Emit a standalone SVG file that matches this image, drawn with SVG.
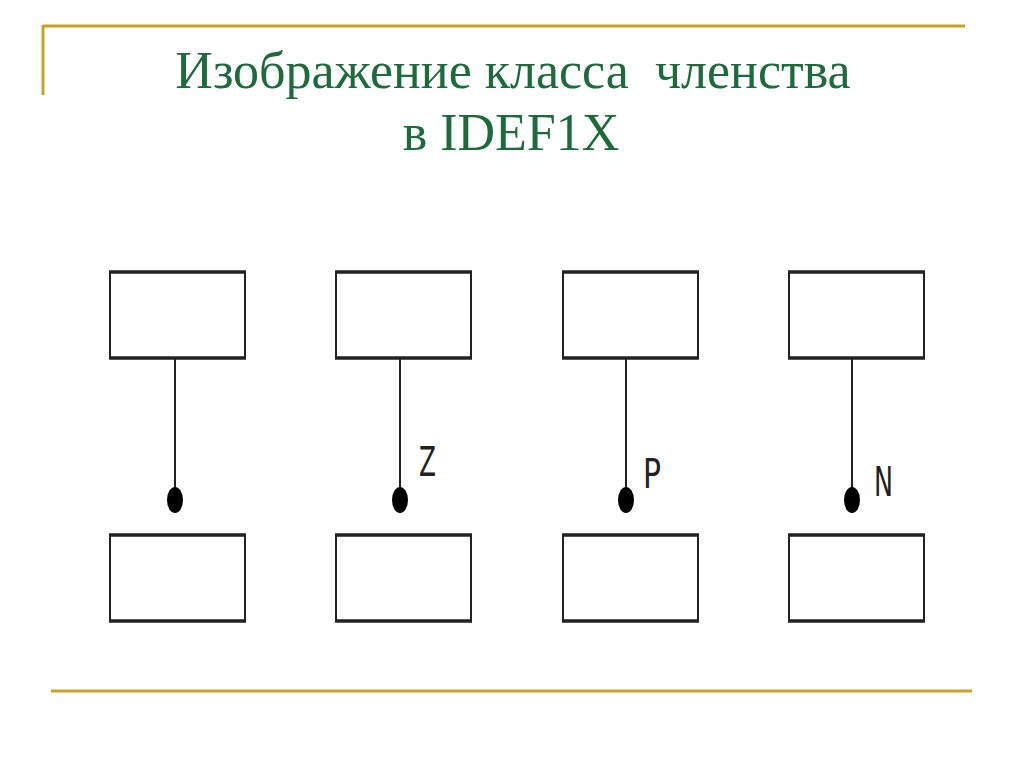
<svg xmlns="http://www.w3.org/2000/svg" width="1024" height="768" viewBox="0 0 1024 768">
<style>
.gold{stroke:#c9a227;stroke-width:3;fill:none}
.title{font-family:"Liberation Serif",serif;font-size:52px;fill:#1d6b3c;text-anchor:middle}
.box{fill:#fff;stroke:#222;stroke-width:2}
.edge{stroke:#222;stroke-width:3.5}
.conn{stroke:#222;stroke-width:2}
.dot{fill:#000}
.lbl{font-family:"DejaVu Sans","Liberation Sans",sans-serif;font-size:40px;fill:#222}
</style>
<rect width="1024" height="768" fill="#fff"/>
<g id="frame">
<line class="gold" x1="43" y1="26" x2="965" y2="26"/>
<line class="gold" x1="43" y1="25" x2="43" y2="95"/>
<line class="gold" x1="51" y1="691" x2="972" y2="691"/>
</g>
<g id="title">
<text class="title" x="513" y="88" xml:space="preserve">Изображение класса  членства</text>
<text class="title" x="511" y="150">в IDEF1X</text>
</g>
<defs>
<g id="ent">
<rect class="box" x="0" y="0" width="135" height="86"/>
<line class="edge" x1="-1" y1="0" x2="136" y2="0"/>
<line class="edge" x1="-1" y1="86" x2="136" y2="86"/>
</g>
</defs>
<g id="parent1"><use href="#ent" x="110" y="272"/></g>
<g id="parent2"><use href="#ent" x="336" y="272"/></g>
<g id="parent3"><use href="#ent" x="563" y="272"/></g>
<g id="parent4"><use href="#ent" x="789" y="272"/></g>
<g id="child1"><use href="#ent" x="110" y="535"/></g>
<g id="child2"><use href="#ent" x="336" y="535"/></g>
<g id="child3"><use href="#ent" x="563" y="535"/></g>
<g id="child4"><use href="#ent" x="789" y="535"/></g>
<g id="connectors">
<line class="conn" x1="175" y1="359" x2="175" y2="495"/>
<ellipse class="dot" cx="175" cy="500" rx="8" ry="13"/>
<line class="conn" x1="400" y1="359" x2="400" y2="495"/>
<ellipse class="dot" cx="400" cy="500" rx="8" ry="13"/>
<line class="conn" x1="626" y1="359" x2="626" y2="495"/>
<ellipse class="dot" cx="626" cy="500" rx="8" ry="13"/>
<line class="conn" x1="852" y1="359" x2="852" y2="495"/>
<ellipse class="dot" cx="852" cy="500" rx="8" ry="13"/>
</g>
<g id="labels">
<text class="lbl" x="419" y="476" textLength="17" lengthAdjust="spacingAndGlyphs">Z</text>
<text class="lbl" x="643" y="488" textLength="18" lengthAdjust="spacingAndGlyphs">P</text>
<text class="lbl" x="874" y="496" textLength="19" lengthAdjust="spacingAndGlyphs">N</text>
</g>
</svg>
